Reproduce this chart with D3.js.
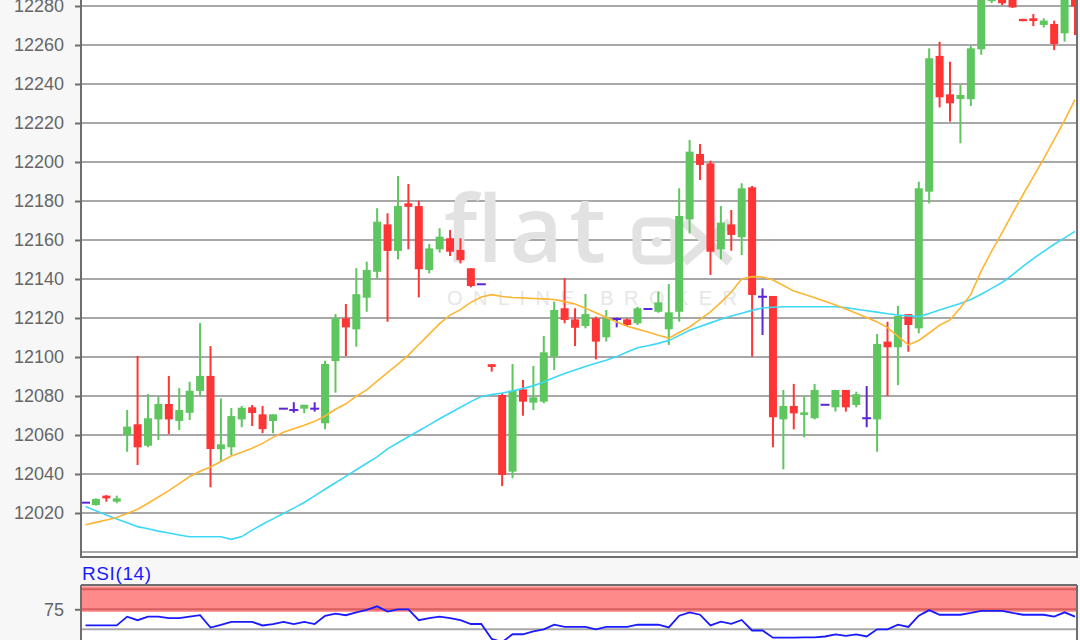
<!DOCTYPE html>
<html><head><meta charset="utf-8">
<script src="https://cdn.jsdelivr.net/npm/d3@7"></script>
<style>html,body{margin:0;padding:0;background:#f7f7f7;} svg{display:block;}</style>
</head><body><svg id="c" width="1080" height="640"></svg>
<script>
// ---------- data ----------
const candleIndex = d3.range(1, 97);
const openPrices = [12025.3,12024.1,12028.9,12025.8,12060,12065.5,12054.5,12068,12075.9,12067.2,
12071.4,12082.6,12090.3,12052.7,12053.7,12068,12074.2,12070.6,12067.2,12073.5,
12072.8,12073.5,12073.5,12066,12097.9,12119.8,12114.2,12130.4,12143.7,12168,
12154.4,12178.8,12177.4,12144.6,12155.2,12160.9,12154.9,12145.5,12137.3,12096.3,
12080.5,12041.2,12083.4,12076.6,12077.1,12100.2,12125,12119.3,12115.9,12119.8,
12110.1,12119.5,12119.3,12117.3,12124.6,12123.2,12114.2,12123.2,12170.6,12204.1,
12199.3,12155.2,12168,12161.4,12187,12130.9,12131.3,12068,12074.9,12070.3,
12068.6,12075.5,12074.2,12083.1,12075.4,12068.6,12068,12107.9,12105,12122,
12114.7,12184.8,12254.4,12234.7,12232.3,12232.2,12257.8,12282.5,12285,12284,
12273.4,12273.7,12270.3,12270.8,12266,12286];
const highPrices = [12025.3,12027.5,12029.2,12028.9,12072.8,12100.5,12081,12079.6,12090.3,12084,
12087.3,12117.4,12105.6,12078.8,12073.8,12074.9,12075.4,12074.9,12070.6,12073.5,
12076.8,12075.5,12076.8,12098.1,12122,12127.2,12145.5,12148.9,12176.3,12173.7,
12192.8,12188.7,12180.2,12158,12166,12165.1,12160.9,12145.5,12137.3,12096.3,
12081.4,12096.4,12088.2,12095.4,12110.8,12128.4,12140.4,12125,12132.3,12120.7,
12124.1,12120.2,12119.8,12125.8,12124.6,12133.5,12137.4,12186.5,12211.3,12209.2,
12200.7,12177.4,12175.4,12189.1,12187.7,12135.2,12131.3,12083.1,12086.2,12079.6,
12086.2,12075.5,12083.1,12083.1,12082.2,12085.1,12111.8,12118.1,12126.2,12122,
12189.9,12258.3,12261.7,12251.4,12239.5,12259.5,12291,12285,12287,12286,
12273.4,12275.9,12273.7,12272.5,12290,12288];
const lowPrices = [12025.3,12023.8,12025.8,12025,12051.4,12044.6,12053.7,12057.4,12060.5,12062.6,
12067.7,12079.6,12033.2,12046.3,12049.7,12064,12064.6,12060.9,12060.9,12073.5,
12071.4,12071.2,12072,12062.9,12081.7,12100.5,12105.3,12123.2,12140.4,12118.1,
12150.1,12155.2,12130.6,12142.9,12153.5,12151.8,12148,12135.7,12137.3,12092.5,
12033.8,12037.8,12069.9,12072.8,12076.3,12093.3,12117.3,12105.6,12114.7,12098.8,
12107.9,12115.2,12115.8,12116.4,12124.6,12122.7,12106.2,12118.1,12163.4,12190.8,
12142.1,12150.1,12154.5,12152.3,12100.2,12111.3,12053.7,12042.4,12062.9,12058.8,
12068,12075.5,12072,12072,12074.2,12064,12051.4,12080,12085.6,12102.7,
12112.2,12178.8,12228,12220.7,12209.6,12228.7,12255,12281.5,12280.5,12279,
12272.2,12269.7,12269,12257.4,12261.7,12265.1];
const closePrices = [12025.3,12027.2,12027.5,12027.5,12064.3,12053.7,12068.6,12075.9,12068,12072.8,
12082.7,12090.3,12052.8,12055.2,12069.7,12074,12071.3,12063,12070.6,12073.5,
12072.8,12075.5,12073.5,12096.4,12119.8,12115.2,12132.2,12144.6,12169.4,12154.4,
12177.4,12177,12145,12155.7,12161.7,12154,12149.7,12136.4,12137.3,12094.9,
12039.5,12082.7,12077.1,12079.3,12102.4,12124.1,12119,12115,12122,12107.9,
12119.8,12119.5,12116.4,12125,12124.6,12128,12122.9,12172.3,12205.3,12198.5,
12154,12168.9,12162.6,12186.5,12131.8,12130.9,12069.1,12074.9,12071.1,12071.6,
12083.1,12075.5,12083.1,12074.2,12080.9,12068.6,12106.7,12105,12121,12116.4,
12186.5,12253.2,12233.2,12230.1,12234.4,12258.3,12287,12283.5,12281.4,12279.3,
12272.2,12272.3,12272.5,12260.5,12286,12279.7];
const maOrange = [12014.0,12015.2,12016.4,12017.7,12019.7,12021.9,12025.0,12028.2,12031.5,12035.1,
12038.7,12041.4,12043.6,12046.4,12049.2,12051.2,12053.2,12055.7,12058.8,12061.4,
12063.2,12065.0,12067.0,12069.7,12073.2,12076.0,12079.9,12083.1,12087.6,12092.0,
12096.4,12101.0,12106.4,12111.7,12117.1,12121.5,12124.3,12128.0,12130.8,12132.0,
12131.0,12130.5,12130.3,12130.0,12129.8,12129.5,12128.4,12127.2,12125.0,12122.7,
12120.3,12117.9,12115.8,12114.3,12112.8,12111.1,12109.7,12112.6,12115.4,12119.3,
12123.1,12128.0,12133.3,12140.0,12141.2,12141.0,12139.5,12136.7,12133.8,12132.2,
12130.4,12128.6,12126.7,12124.6,12122.4,12120.3,12118.0,12115.1,12110.6,12106.2,
12108.5,12112.3,12116.3,12119.0,12125.3,12132.1,12144.2,12154.3,12163.8,12173.6,
12183.2,12192.4,12201.7,12211.5,12221.4,12232.0];
const maCyan = [12023.3,12021.1,12019.0,12016.9,12015.0,12013.0,12011.9,12010.7,12009.7,12008.7,
12007.8,12007.8,12007.8,12007.8,12006.5,12007.9,12011.2,12014.2,12017.0,12019.7,
12022.5,12025.4,12028.8,12032.2,12035.5,12038.8,12042.2,12045.5,12048.8,12052.9,
12056.0,12059.1,12062.2,12065.2,12068.3,12071.3,12074.2,12077.1,12079.7,12080.7,
12081.5,12082.6,12083.9,12085.2,12087.2,12089.5,12091.5,12093.3,12095.1,12096.8,
12098.3,12100.2,12102.6,12104.7,12105.8,12107.0,12108.4,12111.1,12113.7,12115.6,
12117.5,12119.4,12121.0,12122.4,12123.9,12125.1,12125.5,12125.8,12125.8,12125.8,
12125.8,12125.8,12125.8,12125.3,12124.5,12123.7,12123.0,12122.2,12121.5,12121.1,
12120.7,12122.3,12124.1,12125.8,12127.4,12129.5,12132.2,12135.2,12138.2,12142.1,
12146.5,12150.5,12154.2,12157.8,12161.1,12164.4];
const rsiValues = [54.8,54.8,54.8,54.8,65.8,61.4,65.8,65.8,64,64,
65.8,67.6,52.2,55.5,59.2,59.2,59.2,54.8,56.6,59.2,
56.6,59.2,56.6,66.9,69.5,67.6,71.3,74.3,78.7,72.1,
75,75,61.4,64,65.8,64,61.4,56.6,56.6,38,
34,43.8,43.8,47.5,50,55.7,53,53,53,50,
53,53,53,55.7,55.7,55.7,52.3,67,71.2,68.2,
54.9,59.5,56.8,61.7,48.5,48.5,39.5,39.5,39.5,40,
40,41,43.6,41.8,43.6,41,50,50,55.7,53,
67,74,68.2,68.2,68.2,70.5,73.1,73.1,73.1,70.5,
68.2,68.2,68.2,65.9,71.2,65.9];
const gridPrices = [12000,12020,12040,12060,12080,12100,12120,12140,12160,12180,12200,12220,12240,12260,12280,12300];
const priceTickLabels = [12020,12040,12060,12080,12100,12120,12140,12160,12180,12200,12220,12240,12260,12280];
const rsiTickLabels = [75];

// ---------- layout ----------
const svg = d3.select("#c");
const L = 81, R = 1077, mainBottom = 557, rsiTop = 585;
const x = d3.scaleLinear().domain([1, 96]).range([85.5, 1075]);
const y = d3.scaleLinear().domain([12000, 12280]).range([552, 6]);
const yr = d3.scaleLinear().domain([50, 100]).range([629.3, 589.3]);
const GREEN = "#5ec65e", RED = "#ff3434", PURPLE = "#5a26d6";

svg.append("rect").attr("x", 0).attr("y", 0).attr("width", 1080).attr("height", 640).attr("fill", "#f7f7f7");
svg.append("rect").attr("x", L).attr("y", -10).attr("width", R - L).attr("height", mainBottom + 10).attr("fill", "#ffffff");

const defs = svg.append("defs");
defs.append("clipPath").attr("id", "mainClip").append("rect").attr("x", L).attr("y", -10).attr("width", R - L).attr("height", mainBottom + 10);
defs.append("clipPath").attr("id", "rsiClip").append("rect").attr("x", L).attr("y", rsiTop).attr("width", R - L).attr("height", 60);

// grid
svg.append("g").selectAll("line").data(gridPrices).join("line")
  .attr("x1", L).attr("x2", R).attr("y1", d => y(d)).attr("y2", d => y(d))
  .attr("stroke", "#a8a8a8").attr("stroke-width", 2);

// watermark
const wm = svg.append("g").attr("fill", "#e2e2e2");
wm.append("text").attr("x", 444).attr("y", 262).attr("font-family", "Open Sans, sans-serif")
  .attr("font-weight", 600).attr("font-size", 92).attr("textLength", 162).attr("lengthAdjust", "spacing").text("flat");
wm.append("rect").attr("x", 637).attr("y", 222).attr("width", 38).attr("height", 38).attr("rx", 8)
  .attr("fill", "none").attr("stroke", "#e2e2e2").attr("stroke-width", 9);
wm.append("circle").attr("cx", 657).attr("cy", 242).attr("r", 5);
wm.append("path").attr("d", "M684,222 L730,262 M730,222 L684,262").attr("stroke", "#e2e2e2").attr("stroke-width", 9).attr("fill", "none");
wm.append("text").attr("x", 447).attr("y", 305).attr("font-family", "Liberation Sans, Arial, sans-serif")
  .attr("font-size", 20).attr("fill", "#e6e6e6").attr("textLength", 290).attr("lengthAdjust", "spacing").text("ONLINE BROKER");

// candles
const candles = candleIndex.map((d, i) => ({ i: d, o: openPrices[i], h: highPrices[i], l: lowPrices[i], c: closePrices[i] }));
const col = d => d.c > d.o ? GREEN : (d.c < d.o ? RED : PURPLE);
const cg = svg.append("g").attr("clip-path", "url(#mainClip)");
cg.selectAll("line.wick").data(candles).join("line").attr("class", "wick")
  .attr("x1", d => x(d.i)).attr("x2", d => x(d.i))
  .attr("y1", d => y(d.h)).attr("y2", d => y(d.l))
  .attr("stroke", col).attr("stroke-width", 2);
cg.selectAll("rect.body").data(candles.filter(d => d.c !== d.o)).join("rect").attr("class", "body")
  .attr("x", d => x(d.i) - 4).attr("width", 8)
  .attr("y", d => y(Math.max(d.o, d.c)))
  .attr("height", d => Math.max(2, Math.abs(y(d.o) - y(d.c))))
  .attr("fill", col);
cg.selectAll("line.doji").data(candles.filter(d => d.c === d.o)).join("line").attr("class", "doji")
  .attr("x1", d => x(d.i) - 4.5).attr("x2", d => x(d.i) + 4.5)
  .attr("y1", d => y(d.o)).attr("y2", d => y(d.o))
  .attr("stroke", PURPLE).attr("stroke-width", 2);

// moving averages
const lineGen = arr => d3.line().x((d, i) => x(candleIndex[i])).y(d => y(d))(arr);
cg.append("path").attr("d", lineGen(maCyan)).attr("fill", "none").attr("stroke", "#3dd8f7").attr("stroke-width", 1.6);
cg.append("path").attr("d", lineGen(maOrange)).attr("fill", "none").attr("stroke", "#fcb633").attr("stroke-width", 1.6);

// main frame & axis
svg.append("line").attr("x1", L).attr("x2", L).attr("y1", -5).attr("y2", mainBottom + 1).attr("stroke", "#6e6e6e").attr("stroke-width", 2);
svg.append("line").attr("x1", R).attr("x2", R).attr("y1", -5).attr("y2", mainBottom + 1).attr("stroke", "#6e6e6e").attr("stroke-width", 2);
svg.append("line").attr("x1", L).attr("x2", R).attr("y1", mainBottom).attr("y2", mainBottom).attr("stroke", "#6e6e6e").attr("stroke-width", 2);
const yAxis = d3.axisLeft(y).tickValues(priceTickLabels).tickSize(6).tickPadding(11).tickFormat(d3.format("d"));
const ga = svg.append("g").attr("transform", `translate(${L},0)`).call(yAxis);
ga.select(".domain").remove();
ga.selectAll(".tick line").attr("stroke", "#6e6e6e").attr("stroke-width", 2);
ga.selectAll(".tick text").attr("fill", "#666").attr("font-size", 18).attr("font-family", "Liberation Sans, Arial, sans-serif");

// RSI panel
svg.append("text").attr("x", 82).attr("y", 580).attr("fill", "#1a1aff").attr("font-size", 19)
  .attr("font-family", "Liberation Sans, Arial, sans-serif").attr("letter-spacing", 0.6).text("RSI(14)");
svg.append("rect").attr("x", L).attr("y", rsiTop).attr("width", R - L).attr("height", 60).attr("fill", "#ffffff");
const rg = svg.append("g").attr("clip-path", "url(#rsiClip)");
rg.append("rect").attr("x", L).attr("y", yr(100) - 3).attr("width", R - L).attr("height", yr(75) - yr(100) + 5.5).attr("fill", "#ff8a8a");
rg.selectAll("line.band").data([100, 75]).join("line").attr("class", "band")
  .attr("x1", L).attr("x2", R).attr("y1", d => yr(d)).attr("y2", d => yr(d)).attr("stroke", "#d95e5e").attr("stroke-width", 2);
rg.append("line").attr("x1", L).attr("x2", R).attr("y1", yr(50)).attr("y2", yr(50)).attr("stroke", "#a8a8a8").attr("stroke-width", 2);
rg.append("path").attr("d", d3.line().x((d, i) => x(candleIndex[i])).y(d => yr(d))(rsiValues))
  .attr("fill", "none").attr("stroke", "#1a1aff").attr("stroke-width", 1.8);
svg.append("line").attr("x1", L).attr("x2", R).attr("y1", rsiTop).attr("y2", rsiTop).attr("stroke", "#6e6e6e").attr("stroke-width", 2);
svg.append("line").attr("x1", L).attr("x2", L).attr("y1", rsiTop).attr("y2", 645).attr("stroke", "#6e6e6e").attr("stroke-width", 2);
svg.append("line").attr("x1", R).attr("x2", R).attr("y1", rsiTop).attr("y2", 645).attr("stroke", "#6e6e6e").attr("stroke-width", 2);
const rAxis = d3.axisLeft(yr).tickValues(rsiTickLabels).tickSize(6).tickPadding(11);
const gr = svg.append("g").attr("transform", `translate(${L},0)`).call(rAxis);
gr.select(".domain").remove();
gr.selectAll(".tick line").attr("stroke", "#6e6e6e").attr("stroke-width", 2);
gr.selectAll(".tick text").attr("fill", "#666").attr("font-size", 18).attr("font-family", "Liberation Sans, Arial, sans-serif");
</script></body></html>
